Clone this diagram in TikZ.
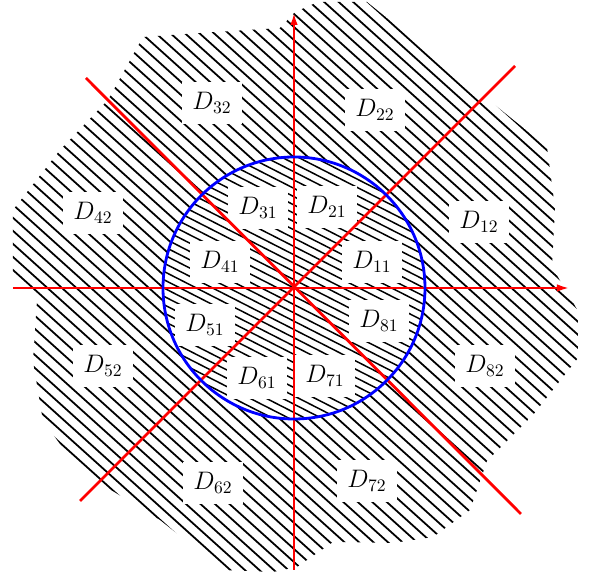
\documentclass[tikz,border=0pt]{standalone}
\usetikzlibrary{arrows.meta}
\begin{document}
\begin{tikzpicture}[
  axis/.style={red,line width=1.6pt},
  hatch/.style={black,line width=1pt},
  finehatch/.style={black,line width=0.85pt},
  region/.style={fill=white,inner sep=6pt,font=\Large}
]
\useasboundingbox (-5.88,-5.76) rectangle (6.06,5.76);
% outer hatched region
\begin{scope}
\clip (-3.02,5.02) -- (-1.88,5.10) -- (-0.28,5.20) -- (0.02,5.52) -- (0.48,5.72)
  -- (1.46,5.72) -- (5.06,2.82) -- (5.22,1.60) -- (5.16,0.42) -- (5.68,-0.46)
  -- (5.68,-1.40) -- (4.78,-2.54) -- (3.86,-3.46) -- (3.52,-4.44) -- (2.78,-4.98)
  -- (1.98,-5.10) -- (0.78,-5.08) -- (0.06,-5.58) -- (-0.42,-5.68) -- (-1.42,-5.64)
  -- (-2.68,-4.64) -- (-4.28,-3.66) -- (-5.02,-2.66) -- (-5.22,-1.46) -- (-5.14,-0.26)
  -- (-5.62,0.16) -- (-5.62,1.56) -- (-4.68,2.76) -- (-3.72,3.76) -- cycle;
\foreach \i in {-46,...,46}
  \draw[hatch] (-6.2,{\i*0.261+5.58}) -- (6.2,{\i*0.261-5.58});
\end{scope}
% inner disc
\fill[white] (0,0) circle (2.62);
\begin{scope}
\clip (0,0) circle (2.62);
\foreach \i in {-30,...,30}
  \draw[finehatch] (-3,{\i*0.166+1.53}) -- (3,{\i*0.166-1.53});
\end{scope}
% labels
\foreach \n/\x/\y in {11/1.56/0.52, 21/0.66/1.62, 31/-0.72/1.60, 41/-1.48/0.52,
    51/-1.78/-0.74, 61/-0.74/-1.80, 71/0.62/-1.76, 81/1.70/-0.66,
    12/3.70/1.32, 22/1.62/3.56, 32/-1.64/3.70, 42/-4.02/1.50,
    52/-3.82/-1.56, 62/-1.62/-3.90, 72/1.46/-3.86, 82/3.82/-1.56}
  \node[region] (d\n) at (\x,\y) {$D_{\n}$};
% axes
\coordinate (o) at (0,0);
\coordinate (xl) at (-5.62,0);
\coordinate (xr) at (5.52,0);
\coordinate (yb) at (0,-5.64);
\coordinate (yt) at (0,5.52);
\coordinate (ne) at (4.42,4.44);
\coordinate (sw) at (-4.28,-4.26);
\coordinate (nw) at (-4.16,4.20);
\coordinate (se) at (4.54,-4.52);
\draw[axis,-{Latex[length=2.6mm,width=1.5mm]}] (xl) -- (xr);
\draw[axis,-{Latex[length=2.6mm,width=1.5mm]}] (yb) -- (yt);
\draw[axis] (sw) -- (ne);
\draw[axis] (nw) -- (se);
\draw[blue,line width=1.6pt] (o) circle (2.62);
\end{tikzpicture}
\end{document}
